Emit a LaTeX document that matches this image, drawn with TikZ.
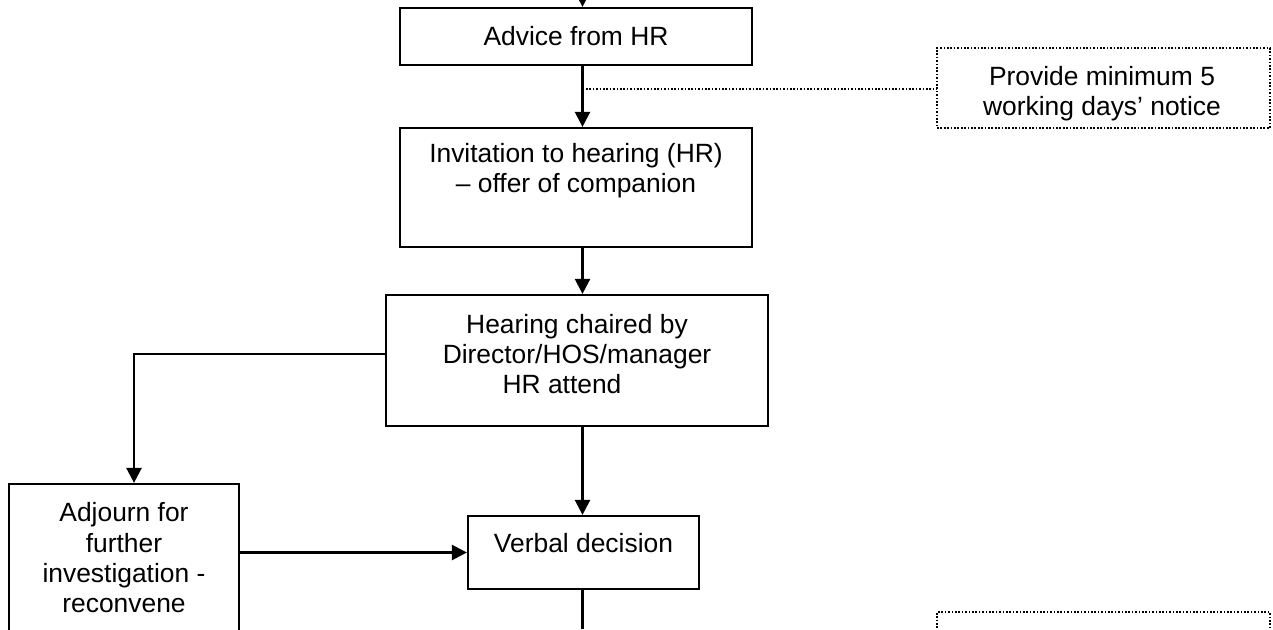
\documentclass[tikz,border=0pt]{standalone}
\usepackage{fontspec}
\setmainfont{Liberation Sans}
\usetikzlibrary{arrows.meta}
\begin{document}
\begin{tikzpicture}[x=1pt,y=-1pt,
  box/.style={draw,line width=2.2pt,rectangle,inner sep=0pt},
  dotbox/.style={draw,line width=1.7pt,dash pattern=on 1.7pt off 1.7pt,rectangle,inner sep=0pt},
  txt/.style={inner sep=0pt,align=center,font=\fontsize{26.4}{30.3}\selectfont},
  arr/.style={line width=2.4pt,-{Triangle[length=15pt,width=15pt]}},
  conn/.style={line width=2.4pt},
  dotline/.style={line width=1.7pt,dash pattern=on 1.7pt off 1.7pt}]
\useasboundingbox (0,0) rectangle (1273,629);
\clip (0,0) rectangle (1273,629);
% boxes
\node[box,minimum width=352pt,minimum height=57pt] (adv) at (576,36.5) {};
\node[box,minimum width=352pt,minimum height=119pt] (inv) at (576,187.5) {};
\node[box,minimum width=382pt,minimum height=131pt] (hear) at (577,360.5) {};
\node[box,minimum width=231pt,minimum height=73pt] (verb) at (583.5,552.5) {};
\node[box,minimum width=230pt,minimum height=216pt] (adj) at (124,592) {};
\node[dotbox,minimum width=333pt,minimum height=80pt] (notice) at (1103.5,88) {};
\node[dotbox,minimum width=333pt,minimum height=88pt] (later) at (1103.5,656) {};
% texts
\node[txt] (advT) at (576,36) {Advice from HR};
\node[txt] (invT) at (576,171) {Invitation to hearing (HR)\\– offer of companion};
\node[txt] (hearT) at (577,354) {Hearing chaired by\\Director/HOS/manager\\HR attend\hspace*{30pt}};
\node[txt] (verbT) at (583.5,543) {Verbal decision};
\node[txt] (adjT) at (124,558) {Adjourn for\\further\\investigation -\\reconvene};
\node[txt] (noticeT) at (1102,94) {Provide minimum 5\\working days’ notice};
% connector helpers
\coordinate (top) at (582.5,0);
\coordinate (bot) at (582.5,629);
\coordinate (dj) at (582.5,89);
\coordinate (hl) at (386,354);
\coordinate (ax) at (134,0);
% connectors
\draw[arr] (top) -- (top |- adv.north);
\draw[arr] (top |- adv.south) -- (top |- inv.north);
\draw[dotline] (dj) -- (dj -| notice.west);
\draw[arr] (top |- inv.south) -- (top |- hear.north);
\draw[arr] (hl) -| (ax |- adj.north);
\draw[arr] (top |- hear.south) -- (top |- verb.north);
\draw[arr] (adj.east |- verb.west) -- (verb.west);
\draw[conn] (top |- verb.south) -- (bot);
\end{tikzpicture}
\end{document}
